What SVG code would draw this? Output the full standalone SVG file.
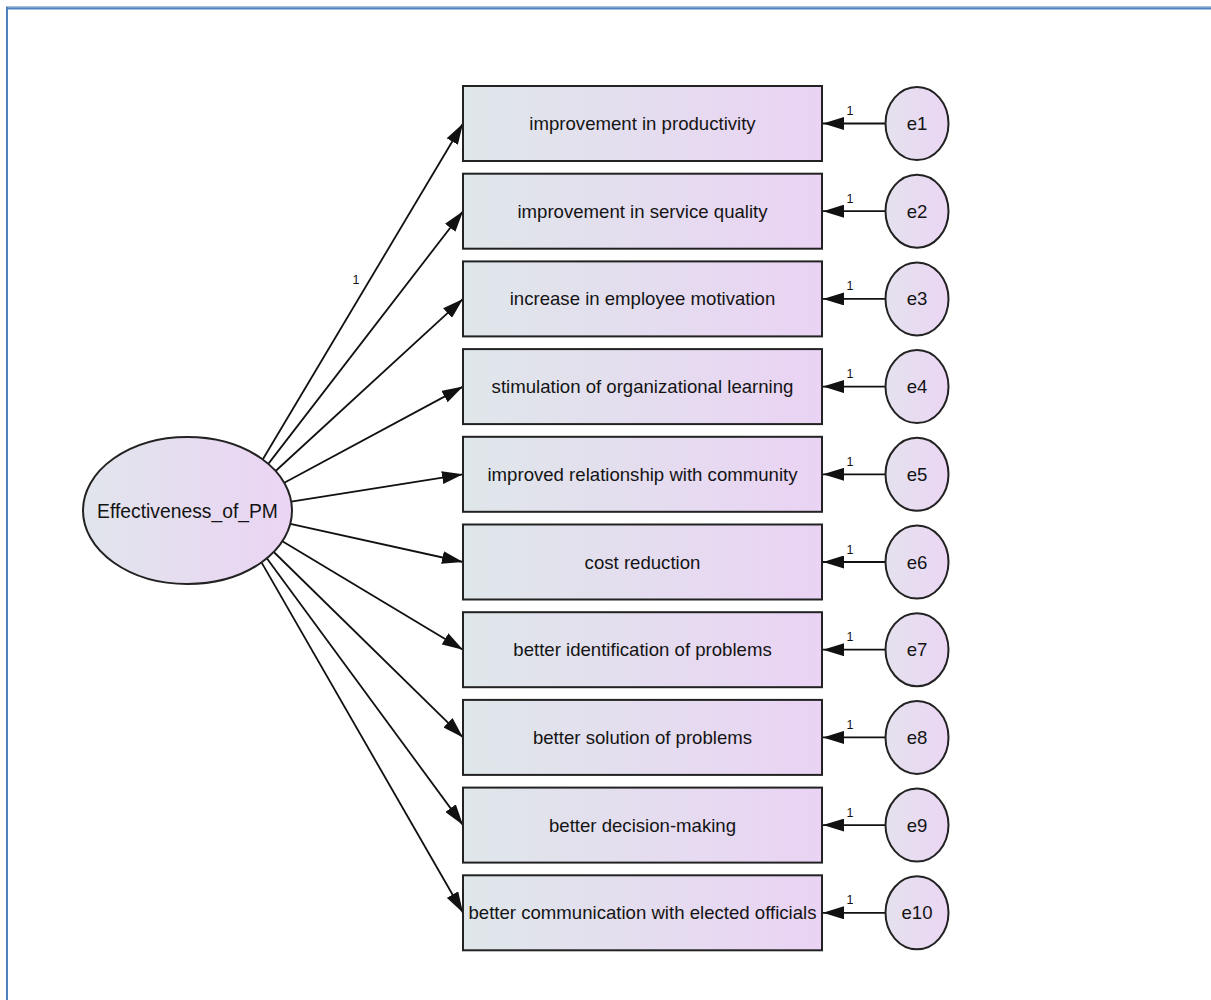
<svg xmlns="http://www.w3.org/2000/svg" width="1211" height="1000" viewBox="0 0 1211 1000">
  <defs>
    <linearGradient id="fillObs" x1="0" y1="0" x2="1" y2="0">
      <stop offset="0" stop-color="#dfe7ea"/>
      <stop offset="1" stop-color="#ead3f4"/>
    </linearGradient>
    <linearGradient id="fillLat" x1="0" y1="0" x2="1" y2="0">
      <stop offset="0" stop-color="#e1e5ec"/>
      <stop offset="1" stop-color="#ebd4f4"/>
    </linearGradient>
    <linearGradient id="fillErr" x1="0" y1="0" x2="1" y2="0">
      <stop offset="0" stop-color="#e5e1ee"/>
      <stop offset="1" stop-color="#ebd6f4"/>
    </linearGradient>
    <marker id="arrow" markerUnits="userSpaceOnUse" markerWidth="21" markerHeight="13" refX="21" refY="6.5" orient="auto">
      <path d="M0,0 L21,6.5 L0,13 z" fill="#111"/>
    </marker>
  </defs>
  <style>
    .obs { fill: url(#fillObs); stroke: #222; stroke-width: 2; }
    .lat { fill: url(#fillLat); stroke: #222; stroke-width: 2; }
    .err { fill: url(#fillErr); stroke: #222; stroke-width: 2; }
    .path { stroke: #111; stroke-width: 1.8; fill: none; marker-end: url(#arrow); }
    .label { font-family: "Liberation Sans", Arial, sans-serif; font-size: 18.6px; fill: #141414; text-anchor: middle; }
    .big { font-size: 19.3px; }
    .wt { font-family: "Liberation Sans", Arial, sans-serif; font-size: 12.5px; fill: #111; text-anchor: middle; }
    .frame { stroke: #4f81bd; fill: none; }
  </style>

  <!-- page frame -->
  <line class="frame" x1="6" y1="7" x2="1211" y2="7" stroke-width="1" stroke="#9bb5d8"/>
  <line class="frame" x1="6" y1="8.5" x2="1211" y2="8.5" stroke-width="2"/>
  <line class="frame" x1="7" y1="7" x2="7" y2="1000" stroke-width="2"/>

  <!-- connectors -->
  <g id="connectors">
    <line class="path" x1="262.7" y1="459.5" x2="463" y2="123.5"/>
    <line class="path" x1="268.3" y1="463.9" x2="463" y2="211.2"/>
    <line class="path" x1="275.6" y1="471.0" x2="463" y2="298.9"/>
    <line class="path" x1="284.3" y1="482.8" x2="463" y2="386.6"/>
    <line class="path" x1="291.2" y1="501.6" x2="463" y2="474.3"/>
    <line class="path" x1="290.3" y1="523.9" x2="463" y2="562.0"/>
    <line class="path" x1="282.4" y1="541.3" x2="463" y2="649.7"/>
    <line class="path" x1="273.8" y1="552.0" x2="463" y2="737.4"/>
    <line class="path" x1="266.8" y1="558.3" x2="463" y2="825.1"/>
    <line class="path" x1="261.5" y1="562.4" x2="463" y2="912.8"/>
    <text class="wt" x="356" y="284">1</text>

    <line class="path" x1="885.5" y1="123.5" x2="823" y2="123.5"/>
    <line class="path" x1="885.5" y1="211.2" x2="823" y2="211.2"/>
    <line class="path" x1="885.5" y1="298.9" x2="823" y2="298.9"/>
    <line class="path" x1="885.5" y1="386.6" x2="823" y2="386.6"/>
    <line class="path" x1="885.5" y1="474.3" x2="823" y2="474.3"/>
    <line class="path" x1="885.5" y1="562.0" x2="823" y2="562.0"/>
    <line class="path" x1="885.5" y1="649.7" x2="823" y2="649.7"/>
    <line class="path" x1="885.5" y1="737.4" x2="823" y2="737.4"/>
    <line class="path" x1="885.5" y1="825.1" x2="823" y2="825.1"/>
    <line class="path" x1="885.5" y1="912.8" x2="823" y2="912.8"/>
    <text class="wt" x="850" y="115">1</text>
    <text class="wt" x="850" y="202.7">1</text>
    <text class="wt" x="850" y="290.4">1</text>
    <text class="wt" x="850" y="378.1">1</text>
    <text class="wt" x="850" y="465.8">1</text>
    <text class="wt" x="850" y="553.5">1</text>
    <text class="wt" x="850" y="641.2">1</text>
    <text class="wt" x="850" y="728.9">1</text>
    <text class="wt" x="850" y="816.6">1</text>
    <text class="wt" x="850" y="904.3">1</text>
  </g>

  <!-- latent factor -->
  <g id="Effectiveness_of_PM">
    <ellipse class="lat" cx="187.5" cy="510.5" rx="104.5" ry="73.5"/>
    <text class="label big" x="187.5" y="517.5">Effectiveness_of_PM</text>
  </g>

  <!-- observed indicators -->
  <g id="obs1"><rect class="obs" x="463" y="86" width="359" height="75"/><text class="label" x="642.5" y="130">improvement in productivity</text></g>
  <g id="obs2"><rect class="obs" x="463" y="173.7" width="359" height="75"/><text class="label" x="642.5" y="217.7">improvement in service quality</text></g>
  <g id="obs3"><rect class="obs" x="463" y="261.4" width="359" height="75"/><text class="label" x="642.5" y="305.4">increase in employee motivation</text></g>
  <g id="obs4"><rect class="obs" x="463" y="349.1" width="359" height="75"/><text class="label" x="642.5" y="393.1">stimulation of organizational learning</text></g>
  <g id="obs5"><rect class="obs" x="463" y="436.8" width="359" height="75"/><text class="label" x="642.5" y="480.8">improved relationship with community</text></g>
  <g id="obs6"><rect class="obs" x="463" y="524.5" width="359" height="75"/><text class="label" x="642.5" y="568.5">cost reduction</text></g>
  <g id="obs7"><rect class="obs" x="463" y="612.2" width="359" height="75"/><text class="label" x="642.5" y="656.2">better identification of problems</text></g>
  <g id="obs8"><rect class="obs" x="463" y="699.9" width="359" height="75"/><text class="label" x="642.5" y="743.9">better solution of problems</text></g>
  <g id="obs9"><rect class="obs" x="463" y="787.6" width="359" height="75"/><text class="label" x="642.5" y="831.6">better decision-making</text></g>
  <g id="obs10"><rect class="obs" x="463" y="875.3" width="359" height="75"/><text class="label" x="642.5" y="919.3">better communication with elected officials</text></g>

  <!-- error terms -->
  <g id="e1"><ellipse class="err" cx="917" cy="123.5" rx="31.5" ry="36.5"/><text class="label" x="917" y="130">e1</text></g>
  <g id="e2"><ellipse class="err" cx="917" cy="211.2" rx="31.5" ry="36.5"/><text class="label" x="917" y="217.7">e2</text></g>
  <g id="e3"><ellipse class="err" cx="917" cy="298.9" rx="31.5" ry="36.5"/><text class="label" x="917" y="305.4">e3</text></g>
  <g id="e4"><ellipse class="err" cx="917" cy="386.6" rx="31.5" ry="36.5"/><text class="label" x="917" y="393.1">e4</text></g>
  <g id="e5"><ellipse class="err" cx="917" cy="474.3" rx="31.5" ry="36.5"/><text class="label" x="917" y="480.8">e5</text></g>
  <g id="e6"><ellipse class="err" cx="917" cy="562.0" rx="31.5" ry="36.5"/><text class="label" x="917" y="568.5">e6</text></g>
  <g id="e7"><ellipse class="err" cx="917" cy="649.7" rx="31.5" ry="36.5"/><text class="label" x="917" y="656.2">e7</text></g>
  <g id="e8"><ellipse class="err" cx="917" cy="737.4" rx="31.5" ry="36.5"/><text class="label" x="917" y="743.9">e8</text></g>
  <g id="e9"><ellipse class="err" cx="917" cy="825.1" rx="31.5" ry="36.5"/><text class="label" x="917" y="831.6">e9</text></g>
  <g id="e10"><ellipse class="err" cx="917" cy="912.8" rx="31.5" ry="36.5"/><text class="label" x="917" y="919.3">e10</text></g>
</svg>
